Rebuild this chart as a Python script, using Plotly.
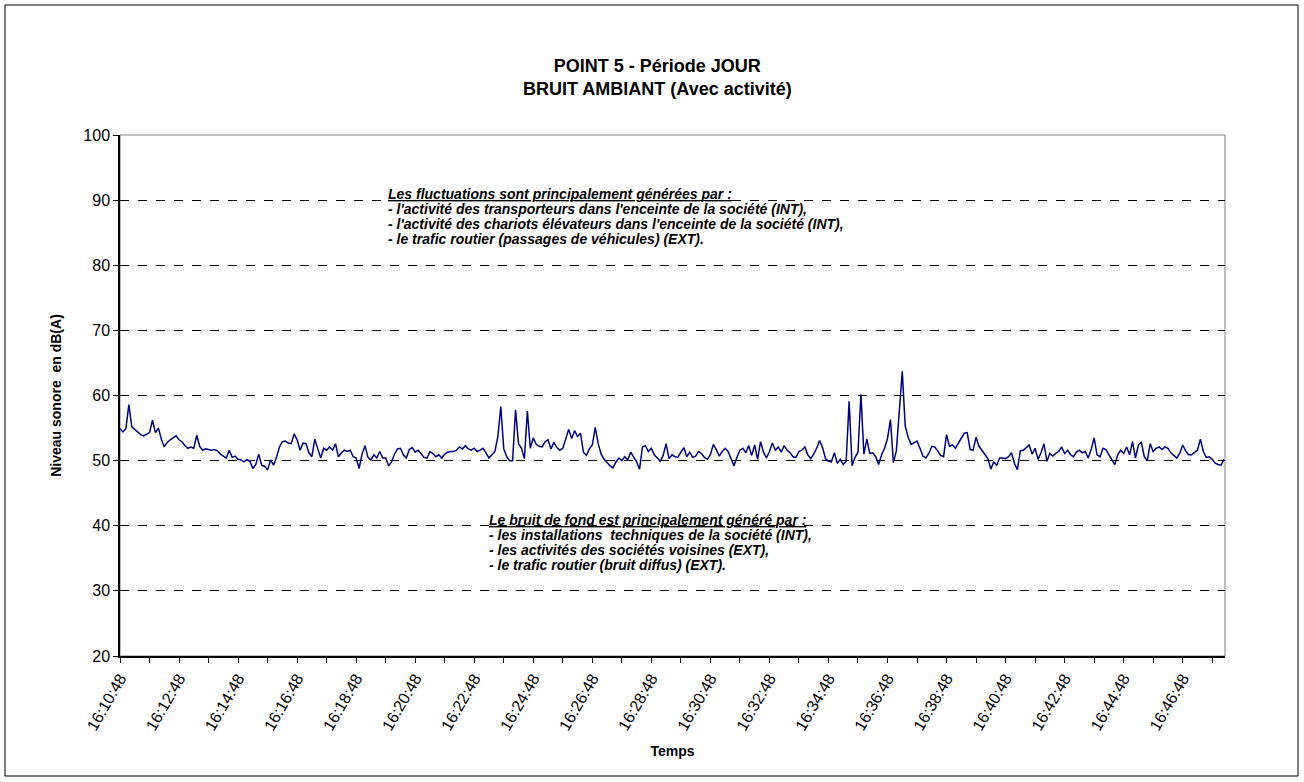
import pandas as pd
import plotly.graph_objects as go

# Acquisition: one LAeq value every 6 s, starting 16:10:48
START = "2000-01-01 16:10:48"
STEP = "6s"

laeq_db = [
    54.9, 54.4, 54.9, 58.6, 55.2, 54.8, 54.4, 54.0, 53.8, 54.1,
    54.3, 56.2, 54.3, 55.0, 53.3, 52.1, 52.8, 53.2, 53.5, 53.8,
    53.2, 52.9, 52.3, 51.9, 52.1, 51.9, 53.9, 52.2, 51.6, 51.8,
    51.7, 51.6, 51.7, 51.5, 51.0, 50.7, 50.4, 51.6, 50.5, 50.7,
    50.2, 50.1, 49.8, 50.2, 49.9, 48.8, 49.4, 51.0, 49.3, 49.1,
    48.6, 50.1, 49.3, 50.5, 52.1, 52.9, 53.0, 52.7, 52.6, 54.1,
    53.2, 51.6, 52.7, 52.6, 51.2, 50.6, 53.3, 51.8, 50.4, 51.9,
    51.6, 52.1, 51.6, 52.6, 50.6, 51.2, 51.6, 51.4, 51.6, 50.6,
    50.4, 48.8, 51.0, 52.3, 50.5, 50.1, 50.9, 50.4, 51.4, 50.4,
    50.4, 49.2, 49.8, 51.0, 51.8, 51.9, 50.9, 50.4, 51.7, 52.0,
    51.3, 51.6, 51.0, 50.5, 50.4, 51.4, 51.1, 50.6, 50.9, 50.4,
    51.0, 51.3, 51.4, 51.4, 51.6, 52.1, 51.8, 52.3, 51.8, 51.6,
    51.9, 51.4, 51.6, 51.9, 51.2, 50.4, 50.9, 51.4, 53.7, 58.3,
    51.8, 50.6, 50.0, 50.0, 57.8, 52.6, 51.9, 50.3, 57.6, 51.9,
    53.5, 52.5, 52.2, 52.1, 52.9, 53.2, 51.8, 52.8, 52.0, 51.6,
    51.9, 53.4, 54.8, 53.4, 54.6, 53.7, 54.2, 51.3, 50.8, 51.8,
    52.4, 55.1, 52.6, 51.0, 50.2, 49.7, 49.2, 48.9, 49.8, 50.4,
    50.0, 50.6, 50.1, 51.3, 50.5, 49.8, 48.7, 52.1, 52.3, 51.4,
    51.9, 50.9, 50.4, 49.9, 50.8, 52.6, 50.3, 50.9, 50.6, 50.5,
    51.3, 52.0, 50.6, 51.3, 50.5, 50.7, 51.4, 51.1, 50.5, 50.2,
    50.9, 52.5, 51.7, 50.7, 51.4, 51.9, 51.4, 50.2, 49.2, 50.5,
    51.6, 51.9, 51.2, 52.3, 50.8, 52.4, 50.2, 52.9, 51.3, 50.4,
    51.4, 52.7, 51.6, 52.1, 51.3, 52.3, 51.6, 51.2, 50.6, 50.5,
    51.4, 51.6, 52.1, 50.9, 50.3, 51.0, 51.9, 53.1, 52.0, 50.3,
    49.9, 49.8, 51.2, 49.6, 50.2, 49.4, 49.9, 59.1, 49.2, 50.5,
    51.3, 60.2, 51.0, 53.3, 51.1, 51.2, 50.6, 49.4, 50.9, 51.9,
    53.4, 56.3, 49.7, 51.5, 57.5, 63.7, 55.3, 53.6, 52.5, 52.7,
    53.0, 51.9, 50.7, 50.4, 51.1, 52.2, 52.1, 51.5, 50.8, 50.6,
    54.0, 52.2, 52.4, 51.9, 52.6, 53.5, 54.2, 54.3, 51.7, 51.6,
    53.6, 52.2, 51.6, 51.0, 50.3, 48.7, 49.8, 49.3, 50.4, 50.4,
    50.3, 50.6, 51.2, 49.6, 48.6, 51.5, 51.6, 52.0, 52.4, 51.0,
    51.9, 50.2, 51.2, 52.6, 49.9, 51.1, 50.7, 51.1, 51.4, 52.1,
    51.1, 51.6, 50.9, 50.6, 51.3, 51.6, 51.2, 51.4, 50.4, 51.7,
    53.5, 50.9, 50.6, 51.9, 51.7, 50.9, 50.2, 49.4, 50.9, 51.6,
    51.1, 52.1, 50.9, 52.9, 50.4, 52.4, 52.8, 50.6, 50.0, 52.6,
    51.4, 51.9, 52.1, 51.7, 52.1, 51.9, 51.2, 50.8, 50.4, 51.1,
    52.4, 51.5, 50.9, 50.9, 51.2, 51.6, 53.3, 51.4, 50.5, 50.6,
    50.2, 49.6, 49.4, 49.3, 50.2,
]

x_range = ["2000-01-01 16:10:48", "2000-01-01 16:48:14"]
y_range = [20, 100]

fluct_lines = [
    "<u>Les fluctuations sont principalement générées par :</u>",
    "- l'activité des transporteurs dans l'enceinte de la société (INT),",
    "- l'activité des chariots élévateurs dans l'enceinte de la société (INT),",
    "- le trafic routier (passages de véhicules) (EXT).",
]
fond_lines = [
    "<u>Le bruit de fond est principalement généré par :</u>",
    "- les installations  techniques de la société (INT),",
    "- les activités des sociétés voisines (EXT),",
    "- le trafic routier (bruit diffus) (EXT).",
]

times = pd.date_range(START, periods=len(laeq_db), freq=STEP)

FONT = "Liberation Sans, Arial, sans-serif"
W, H = 1304, 782
L, R, T, B = 120, 79, 135, 126
pw, ph = W - L - R, H - T - B


def px_x(x):
    return (x - L) / pw


def px_y(y):
    return (H - B - y) / ph


fig = go.Figure()
fig.add_trace(go.Scatter(
    x=times, y=laeq_db, mode="lines",
    line=dict(color="#000080", width=1.5),
    showlegend=False, hoverinfo="skip",
))

annotations = [
    dict(text="<b>POINT 5 - Période JOUR</b><br><b>BRUIT AMBIANT (Avec activité)</b>",
         xref="paper", yref="paper", x=px_x(657), y=px_y(77),
         xanchor="center", yanchor="middle", showarrow=False,
         font=dict(family=FONT, size=18, color="black")),
]
for k, line in enumerate(fluct_lines):
    annotations.append(dict(
        text=line, xref="paper", yref="paper", x=px_x(386), y=px_y(194 + 15 * k),
        xanchor="left", yanchor="middle", showarrow=False,
        font=dict(family=FONT, size=14, color="black", weight="bold", style="italic")))
for k, line in enumerate(fond_lines):
    annotations.append(dict(
        text=line, xref="paper", yref="paper", x=px_x(487), y=px_y(520 + 15 * k),
        xanchor="left", yanchor="middle", showarrow=False,
        font=dict(family=FONT, size=14, color="black", weight="bold", style="italic")))

fig.update_layout(
    width=W, height=H,
    margin=dict(l=L, r=R, t=T, b=B, autoexpand=False),
    paper_bgcolor="white", plot_bgcolor="white",
    font=dict(family=FONT, size=16, color="black"),
    annotations=annotations,
    shapes=[
        # plot-area frame
        dict(type="rect", xref="paper", yref="paper", x0=0, x1=1, y0=0, y1=1,
             line=dict(color="#808080", width=1), layer="below"),
        # outer chart border
        dict(type="rect", xref="paper", yref="paper",
             x0=px_x(5), x1=px_x(1298), y0=px_y(776), y1=px_y(5),
             line=dict(color="black", width=1)),
    ],
)

fig.update_xaxes(
    type="date", range=x_range,
    tick0="2000-01-01 16:10:48", dtick=120000, tickformat="%H:%M:%S",
    tickangle=-60, tickfont=dict(family=FONT, size=16),
    ticks="outside", ticklen=5, tickcolor="black",
    minor=dict(tick0="2000-01-01 16:10:48", dtick=60000, ticks="outside",
               ticklen=5, tickcolor="black", showgrid=False),
    showline=True, linecolor="black", linewidth=1.5,
    showgrid=False, zeroline=False,
    title=dict(text="<b>Temps</b>", font=dict(family=FONT, size=14), standoff=14),
)
fig.update_yaxes(
    range=y_range, dtick=10, tick0=0,
    tickfont=dict(family=FONT, size=16),
    ticks="outside", ticklen=5, tickcolor="black",
    showline=True, linecolor="black", linewidth=1.5,
    showgrid=True, gridcolor="black", griddash="dash", gridwidth=1,
    zeroline=False,
    title=dict(text="<b>Niveau sonore  en dB(A)</b>", font=dict(family=FONT, size=14),
               standoff=18),
)

fig.write_html("out.html")
